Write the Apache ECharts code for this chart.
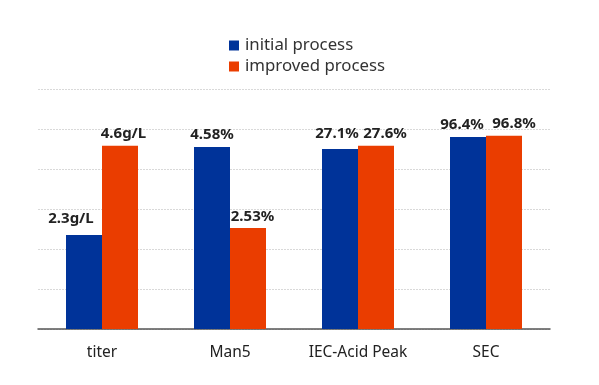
<!DOCTYPE html>
<html>
<head>
<meta charset="utf-8">
<script src="https://cdn.jsdelivr.net/npm/echarts@6/dist/echarts.min.js"></script>
<style>html,body{margin:0;padding:0;background:#fff}#c{width:599px;height:385px}</style>
</head>
<body>
<div id="c"></div>
<script>
var categories = ['titer', 'Man5', 'IEC-Acid Peak', 'SEC'];
var seriesNames = ['initial process', 'improved process'];
// plotted (normalised) bar heights
var initialValues = [2.35, 4.55, 4.5, 4.8];
var improvedValues = [4.58, 2.525, 4.58, 4.83];
// label texts shown above bars
var initialLabels = ['2.3g/L', '4.58%', '27.1%', '96.4%'];
var improvedLabels = ['4.6g/L', '2.53%', '27.6%', '96.8%'];
// label nudges (styling only)
var initialNudgeX = [-13, 0, -3, -6];
var initialNudgeY = [-4, 0, -2.5, 0];
var improvedNudgeX = [3.5, 4.5, 9, 10];
var improvedNudgeY = [0, 1.5, 0, 0];

var FONT = '"Noto Sans", sans-serif';
function mk(vals, labels, nx, ny) {
  return vals.map(function (v, i) {
    return { value: v, label: { formatter: labels[i], offset: [nx[i], ny[i]] } };
  });
}
var labelStyle = { show: true, position: 'top', distance: 5, fontFamily: FONT, fontWeight: 'bold', fontSize: 15, color: '#222' };
var chart = echarts.init(document.getElementById('c'), null, { renderer: 'canvas' });
chart.setOption({
  animation: false,
  color: ['#003399', '#EA3D00'],
  legend: {
    orient: 'vertical', left: 229, top: 37, padding: 0,
    itemWidth: 10, itemHeight: 10, itemGap: 4,
    icon: 'rect',
    textStyle: { fontFamily: FONT, fontSize: 16.8, color: '#333', lineHeight: 17, padding: [0, 0, 0, 1] },
    data: seriesNames
  },
  grid: { left: 38, right: 49, top: 89, bottom: 56 },
  xAxis: {
    type: 'category', data: categories,
    axisLine: { lineStyle: { color: '#555', width: 1.5 } },
    axisTick: { show: false },
    axisLabel: { interval: 0, hideOverlap: false, fontFamily: FONT, fontSize: 15.5, color: '#222', margin: 16 }
  },
  yAxis: {
    type: 'value', min: 0, max: 6, interval: 1,
    axisLabel: { show: false },
    axisLine: { show: false }, axisTick: { show: false },
    splitLine: { lineStyle: { color: '#d9d9d9', type: [2, 1] } }
  },
  series: [
    { name: seriesNames[0], type: 'bar', barWidth: 36, barGap: '0%', data: mk(initialValues, initialLabels, initialNudgeX, initialNudgeY), label: labelStyle },
    { name: seriesNames[1], type: 'bar', barWidth: 36, barGap: '0%', data: mk(improvedValues, improvedLabels, improvedNudgeX, improvedNudgeY), label: labelStyle }
  ]
});
</script>
</body>
</html>
